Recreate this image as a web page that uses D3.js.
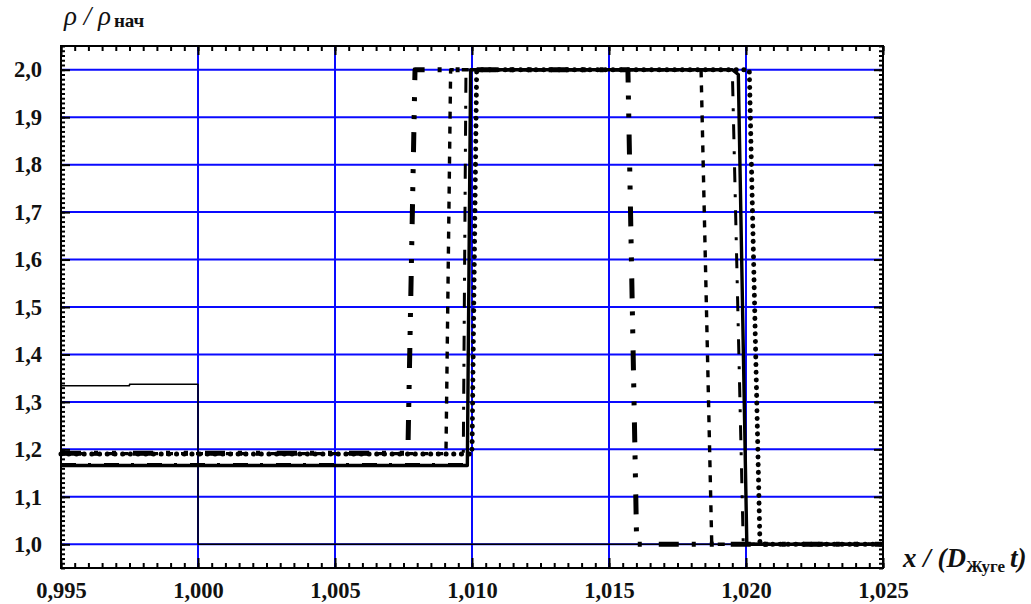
<!DOCTYPE html>
<html>
<head>
<meta charset="utf-8">
<script src="https://cdn.jsdelivr.net/npm/d3@7"></script>
<style>
  body { margin: 0; background: #fff; }
  svg { display: block; }
</style>
</head>
<body>
<svg id="chart" width="1031" height="604"></svg>
<script>
// Axis ticks and labels
const xMajorTicks = [0.995, 1.000, 1.005, 1.010, 1.015, 1.020, 1.025];
const xTickLabels = ["0,995", "1,000", "1,005", "1,010", "1,015", "1,020", "1,025"];
const xGridValues = [1.000, 1.005, 1.010, 1.015, 1.020];
const yMajorTicks = [1.0, 1.1, 1.2, 1.3, 1.4, 1.5, 1.6, 1.7, 1.8, 1.9, 2.0];
const yTickLabels = ["1,0", "1,1", "1,2", "1,3", "1,4", "1,5", "1,6", "1,7", "1,8", "1,9", "2,0"];

// Initial density profile (thin solid)
const initX = [0.995, 0.9975, 0.9975, 1.000, 1.000, 1.025];
const initY = [1.334, 1.334, 1.337, 1.337, 1.000, 1.000];

// Thick solid profile
const solidX = [0.995, 1.00983, 1.00995, 1.0195, 1.01972, 1.02003, 1.025];
const solidY = [1.166, 1.166, 2.000, 2.000, 1.990, 1.000, 1.000];

// Thin long dash–dot profile
const longDashX = [0.995, 1.00968, 1.00978, 1.01950, 1.01990, 1.025];
const longDashY = [1.168, 1.168, 2.000, 2.000, 1.000, 1.000];

// Heavy dash–dot–dot profile
const dashDotX = [0.995, 1.00766, 1.00792, 1.01569, 1.01601, 1.025];
const dashDotY = [1.192, 1.192, 2.000, 2.000, 1.000, 1.000];

// Short dash profile
const shortDashX = [0.995, 1.00905, 1.00922, 1.01836, 1.01875, 1.025];
const shortDashY = [1.191, 1.191, 2.000, 2.000, 1.000, 1.000];

// Dotted profile
const dotX = [0.995, 1.01000, 1.01017, 1.02012, 1.02051, 1.025];
const dotY = [1.190, 1.190, 2.000, 2.000, 1.000, 1.000];

const svg = d3.select("#chart");
const plotLeft = 61, plotRight = 883, plotTop = 46, plotBottom = 568;

const x = d3.scaleLinear().domain([0.995, 1.025]).range([plotLeft, plotRight]);
const y = d3.scaleLinear().domain([0.95, 2.05]).range([plotBottom, plotTop]);

const BLUE = "#0a0aff";

// Grid
const grid = svg.append("g");
grid.selectAll("line.h").data(yMajorTicks).join("line").attr("class", "h")
  .attr("x1", plotLeft).attr("x2", plotRight)
  .attr("y1", d => y(d)).attr("y2", d => y(d))
  .attr("stroke", BLUE).attr("stroke-width", 2);
grid.selectAll("line.v").data(xGridValues).join("line").attr("class", "v")
  .attr("x1", d => x(d)).attr("x2", d => x(d))
  .attr("y1", plotTop).attr("y2", plotBottom)
  .attr("stroke", BLUE).attr("stroke-width", 2);

// Curves
const line = d3.line().x(d => x(d[0])).y(d => y(d[1]));
const pts = (xs, ys) => xs.map((v, i) => [v, ys[i]]);

const curves = [
  { xs: initX, ys: initY, w: 1.5, dash: null, cap: "butt" },
  { xs: dotX, ys: dotY, w: 5, dash: "0.1,7.6", cap: "round" },
  { xs: shortDashX, ys: shortDashY, w: 3.4, dash: "7,8", cap: "butt" },
  { xs: dashDotX, ys: dashDotY, w: 5, dash: "20,13,4,14,4,17", cap: "butt" },
  { xs: longDashX, ys: longDashY, w: 3, dash: "15,12,3,13", cap: "butt" },
  { xs: solidX, ys: solidY, w: 3.4, dash: null, cap: "butt" }
];

svg.append("g").selectAll("path").data(curves).join("path")
  .attr("d", c => line(pts(c.xs, c.ys)))
  .attr("fill", "none")
  .attr("stroke", "#000")
  .attr("stroke-width", c => c.w)
  .attr("stroke-dasharray", c => c.dash)
  .attr("stroke-linecap", c => c.cap)
  .attr("stroke-linejoin", "round");

// Axes (ticks point inward)
const xMinor = d3.range(0, 61).map(i => 0.995 + i * 0.0005);
const yMinor = d3.range(0, 111).map(i => 0.95 + i * 0.01);
const fontFam = "'Liberation Serif', 'Times New Roman', serif";

function styleAxis(g) {
  g.select(".domain").remove();
  g.selectAll(".tick line").attr("stroke", "#000").attr("stroke-width", 2);
}

svg.append("g").attr("transform", `translate(0,${plotBottom})`)
  .call(d3.axisBottom(x).tickValues(xMinor).tickSize(-5).tickFormat(""))
  .call(styleAxis);
svg.append("g").attr("transform", `translate(0,${plotTop})`)
  .call(d3.axisTop(x).tickValues(xMinor).tickSize(-5).tickFormat(""))
  .call(styleAxis);
svg.append("g").attr("transform", `translate(${plotLeft},0)`)
  .call(d3.axisLeft(y).tickValues(yMinor).tickSize(-4).tickFormat(""))
  .call(styleAxis);
svg.append("g").attr("transform", `translate(${plotRight},0)`)
  .call(d3.axisRight(y).tickValues(yMinor).tickSize(-4).tickFormat(""))
  .call(styleAxis);

const xAxis = svg.append("g").attr("transform", `translate(0,${plotBottom})`)
  .call(d3.axisBottom(x).tickValues(xMajorTicks).tickSize(-10).tickPadding(14)
    .tickFormat((d, i) => xTickLabels[i]))
  .call(styleAxis);
xAxis.selectAll("text")
  .attr("font-family", fontFam).attr("font-size", 22.5).attr("font-weight", "bold").attr("fill", "#111");

svg.append("g").attr("transform", `translate(0,${plotTop})`)
  .call(d3.axisTop(x).tickValues(xMajorTicks).tickSize(-9).tickFormat(""))
  .call(styleAxis);

const yAxis = svg.append("g").attr("transform", `translate(${plotLeft},0)`)
  .call(d3.axisLeft(y).tickValues(yMajorTicks).tickSize(-9).tickPadding(19)
    .tickFormat((d, i) => yTickLabels[i]))
  .call(styleAxis);
yAxis.selectAll("text")
  .attr("font-family", fontFam).attr("font-size", 22.5).attr("font-weight", "bold").attr("fill", "#111");

svg.append("g").attr("transform", `translate(${plotRight},0)`)
  .call(d3.axisRight(y).tickValues(yMajorTicks).tickSize(-9).tickFormat(""))
  .call(styleAxis);

// Frame
svg.append("rect")
  .attr("x", plotLeft).attr("y", plotTop)
  .attr("width", plotRight - plotLeft).attr("height", plotBottom - plotTop)
  .attr("fill", "none").attr("stroke", "#000").attr("stroke-width", 2);

// Axis titles
const yTitle = svg.append("text")
  .attr("x", 64).attr("y", 25)
  .attr("font-family", fontFam).attr("fill", "#111");
yTitle.append("tspan").attr("font-style", "italic").attr("font-size", 27).text("ρ / ρ");
yTitle.append("tspan").attr("font-weight", "bold").attr("font-size", 19).attr("dx", 3).attr("dy", 2).text("нач");

const xTitle = svg.append("text")
  .attr("x", 903).attr("y", 567)
  .attr("font-family", fontFam).attr("fill", "#111").attr("font-weight", "bold");
xTitle.append("tspan").attr("font-style", "italic").attr("font-size", 27).text("x / (D");
xTitle.append("tspan").attr("font-size", 17).attr("dy", 5).text("Жуге");
xTitle.append("tspan").attr("font-style", "italic").attr("font-size", 27).attr("dx", 5).attr("dy", -5).text("t)");
</script>
</body>
</html>
